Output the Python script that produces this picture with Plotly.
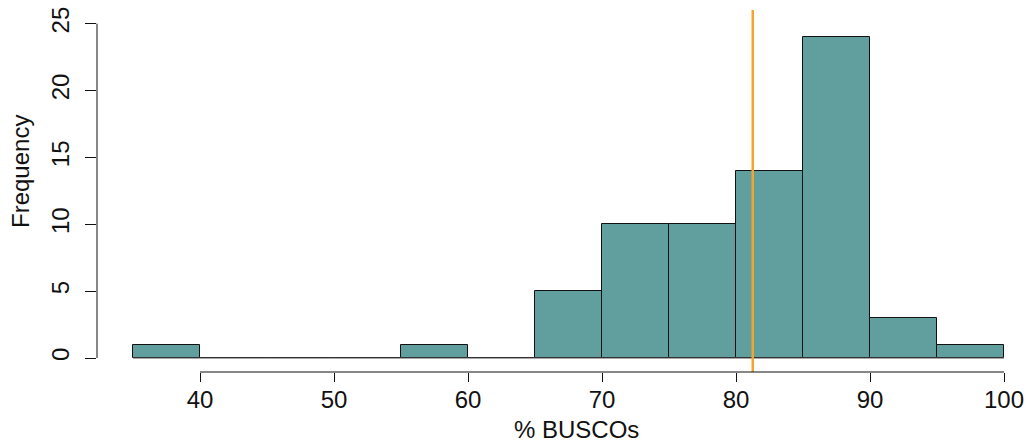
import plotly.graph_objects as go

bin_edges = [35, 40, 45, 50, 55, 60, 65, 70, 75, 80, 85, 90, 95, 100]
counts = [1, 0, 0, 0, 1, 0, 5, 10, 10, 14, 24, 3, 1]
median_line = 81.25
x_ticks = [40, 50, 60, 70, 80, 90, 100]
y_ticks = [0, 5, 10, 15, 20, 25]

centers = [(a + b) / 2 for a, b in zip(bin_edges[:-1], bin_edges[1:])]
widths = [b - a for a, b in zip(bin_edges[:-1], bin_edges[1:])]

FONT = "Liberation Sans, Arial, Helvetica, sans-serif"
FS = 24

fig = go.Figure()
# baseline for empty bins (R draws zero-height rectangles)
fig.add_trace(go.Scatter(
    x=[bin_edges[0], bin_edges[-1]], y=[0, 0], mode="lines",
    line=dict(color="#555555", width=1), hoverinfo="skip", showlegend=False))
fig.add_trace(go.Bar(
    x=centers, y=counts, width=widths,
    marker=dict(color="#619e9e", line=dict(color="#111111", width=1)),
    showlegend=False))

fig.add_shape(type="line", xref="x", yref="paper", x0=median_line, x1=median_line,
              y0=0, y1=1, line=dict(color="#f5a52a", width=2.5))
# R-style axis lines spanning tick range
fig.add_shape(type="line", xref="x", yref="paper", x0=x_ticks[0], x1=x_ticks[-1],
              y0=0, y1=0, line=dict(color="#111111", width=1))
fig.add_shape(type="line", xref="paper", yref="y", x0=0, x1=0,
              y0=y_ticks[0], y1=y_ticks[-1], line=dict(color="#111111", width=1))

fig.update_layout(
    width=1029, height=444,
    margin=dict(l=97, r=9, t=10, b=72),
    plot_bgcolor="white", paper_bgcolor="white",
    font=dict(family=FONT, size=FS, color="#111111"),
    bargap=0,
    xaxis=dict(range=[32.313, 101.194], tickvals=x_ticks, ticks="outside", ticklen=9,
               tickcolor="#111111", showgrid=False, zeroline=False, showline=False,
               tickfont=dict(size=FS), ticklabelstandoff=-3, automargin=False),
    yaxis=dict(range=[-1.047, 26.019], tickvals=y_ticks, ticks="outside", ticklen=11,
               tickcolor="#111111", showgrid=False, zeroline=False, showline=False,
               tickangle=-90, tickfont=dict(size=FS), ticklabelstandoff=6, automargin=False),
    annotations=[
        dict(text="% BUSCOs", xref="paper", yref="paper", x=(576 - 97) / 923, y=(372 - 429) / 362,
             showarrow=False, xanchor="center", yanchor="middle", font=dict(size=FS)),
        dict(text="Frequency", xref="paper", yref="paper", x=(20 - 97) / 923, y=(372 - 172) / 362,
             showarrow=False, xanchor="center", yanchor="middle", textangle=-90, font=dict(size=FS)),
    ],
)

fig.write_html("out.html", config={"displayModeBar": False},
               post_script=("document.body.style.margin='0';"
                            "document.body.style.overflow='hidden';"
                            "document.documentElement.style.overflow='hidden';"))
